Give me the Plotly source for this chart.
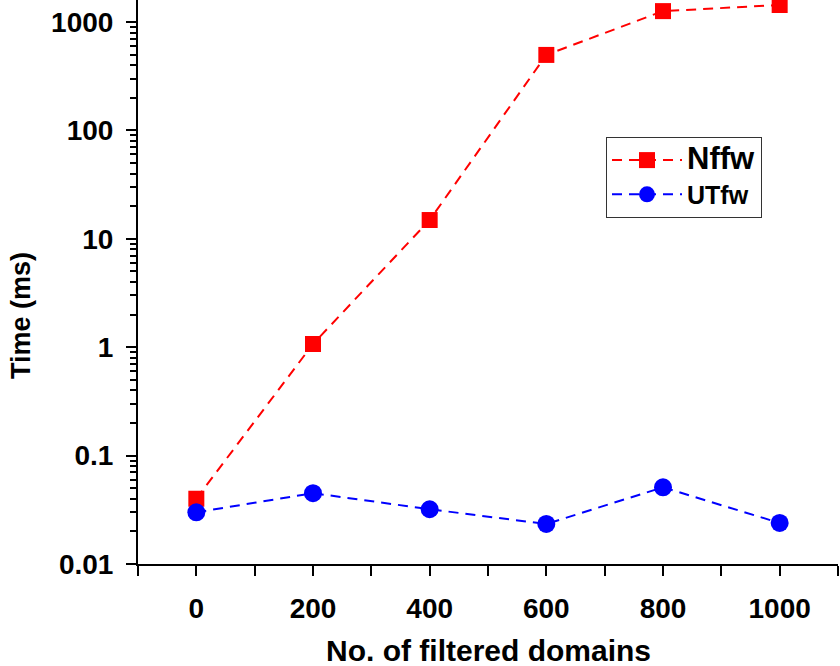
import plotly.graph_objects as go

domains = [0, 200, 400, 600, 800, 1000]
nffw = [0.040, 1.07, 14.9, 497, 1260, 1435]
utfw = [0.030, 0.045, 0.032, 0.0234, 0.051, 0.0239]
y_tickvals = [0.01, 0.1, 1, 10, 100, 1000]
y_ticktext = ["0.01", "0.1", "1", "10", "100", "1000"]
x_tickvals = [0, 200, 400, 600, 800, 1000]
x_minor_vals = [-100, 100, 300, 500, 700, 900, 1100]

FONT = "Liberation Sans, Arial, sans-serif"

W, H = 840, 666
ML, MR, MT, MB = 138, 2, 0, 102
plot_w, plot_h = W - ML - MR, H - MT - MB

fig = go.Figure()
fig.add_trace(go.Scatter(
    x=domains, y=nffw, mode="lines+markers", cliponaxis=False,
    name="<span style='font-size:31px'>Nffw</span>",
    line=dict(color="#FF0000", width=2, dash="10px,7px"),
    marker=dict(symbol="square", size=16, color="#FF0000"),
))
fig.add_trace(go.Scatter(
    x=domains, y=utfw, mode="lines+markers", cliponaxis=False,
    name="<span style='font-size:25px'>UTfw</span>",
    line=dict(color="#0000FF", width=2, dash="10px,7px"),
    marker=dict(symbol="circle", size=18, color="#0000FF"),
))

fig.update_layout(
    width=W, height=H,
    margin=dict(l=ML, r=MR, t=MT, b=MB),
    paper_bgcolor="white", plot_bgcolor="white",
    font=dict(family=FONT, color="black"),
    showlegend=True,
    legend=dict(
        x=(606 - ML) / plot_w, y=1 - 137 / plot_h, xanchor="left", yanchor="top",
        bordercolor="#333333", borderwidth=1, bgcolor="white",
        font=dict(family=FONT, size=24, color="black", weight="bold"),
        itemwidth=70,
    ),
    xaxis=dict(
        range=[-100, 1100], showgrid=False, zeroline=False,
        showline=True, linecolor="black", linewidth=2,
        ticks="outside", ticklen=10, tickwidth=2, tickcolor="black",
        tickvals=x_tickvals, ticktext=[str(v) for v in x_tickvals],
        ticklabelstandoff=8,
        tickfont=dict(family=FONT, size=28, color="black", weight="bold"),
        minor=dict(ticks="outside", ticklen=10, tickwidth=2, tickcolor="black",
                   tickvals=x_minor_vals, showgrid=False),
    ),
    yaxis=dict(
        type="log", range=[-2, 3.203], showgrid=False, zeroline=False,
        showline=True, linecolor="black", linewidth=2,
        ticks="outside", ticklen=10, tickwidth=2, tickcolor="black",
        tickvals=y_tickvals, ticktext=y_ticktext,
        ticklabelstandoff=7, ticklabeloverflow="allow",
        tickfont=dict(family=FONT, size=28, color="black", weight="bold"),
        minor=dict(ticks="outside", ticklen=6, tickwidth=2, tickcolor="black",
                   dtick="D1", showgrid=False),
    ),
    annotations=[
        dict(text="No. of filtered domains", xref="paper", yref="paper",
             x=(488 - ML) / plot_w, y=(plot_h - 650) / plot_h,
             xanchor="center", yanchor="middle", showarrow=False,
             font=dict(family=FONT, size=30, color="black", weight="bold")),
        dict(text="Time (ms)", textangle=-90, xref="paper", yref="paper",
             x=(21 - ML) / plot_w, y=(plot_h - 316) / plot_h,
             xanchor="center", yanchor="middle", showarrow=False,
             font=dict(family=FONT, size=27, color="black", weight="bold")),
    ],
)

# remove the default 8px page margin so the 840x666 figure fills the window exactly
fig.write_html("out.html", config={"displayModeBar": False},
               post_script="document.body.style.margin='0px';")
